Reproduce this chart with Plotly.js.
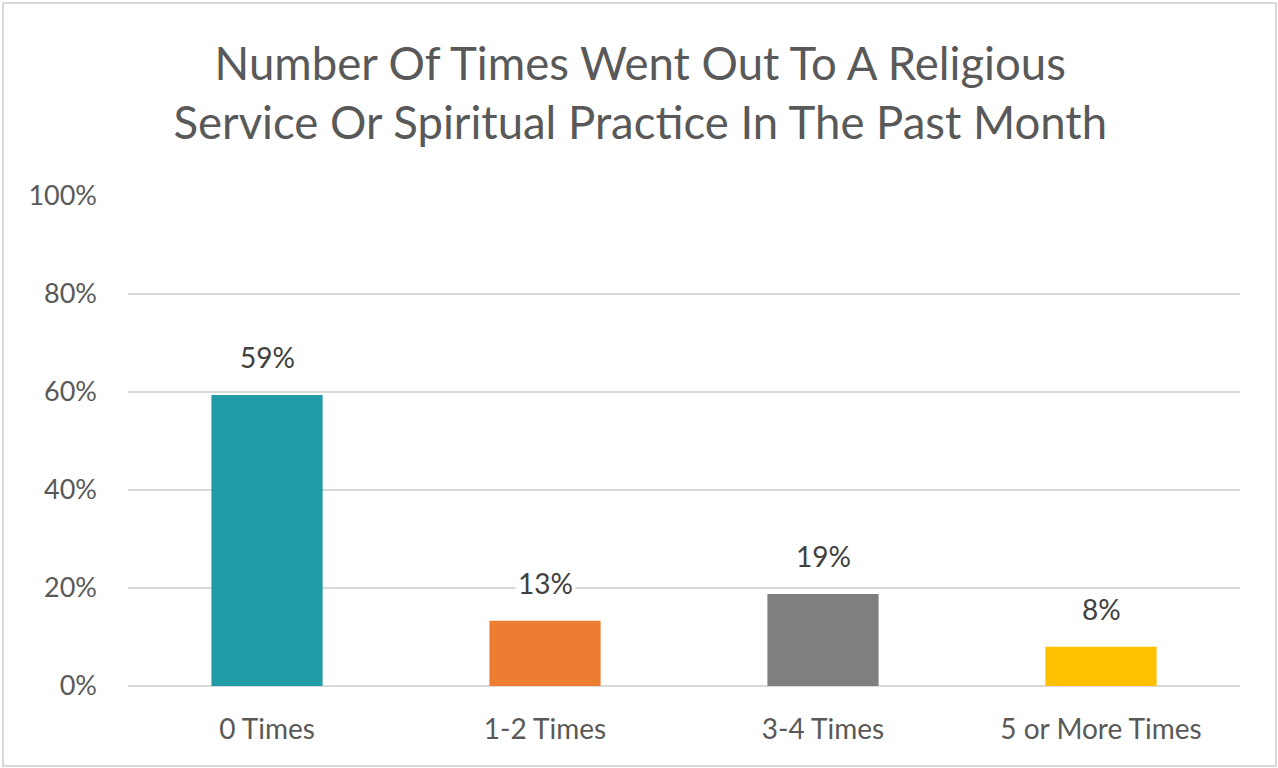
<!DOCTYPE html>
<html>
<head>
<meta charset="utf-8">
<script src="https://cdn.plot.ly/plotly-3.0.1.min.js"></script>
<style>
  html, body { margin: 0; padding: 0; background: #fff; }
  #wrap { position: relative; width: 1278px; height: 768px; }
  #chart { width: 1278px; height: 768px; }
  #frame { position: absolute; left: 2px; top: 2px; width: 1271px; height: 761px;
           border: 2px solid #d9d9d9; pointer-events: none; }
</style>
</head>
<body>
<div id="wrap">
  <div id="chart"></div>
  <div id="frame"></div>
</div>
<script>
const categories = ["0 Times", "1-2 Times", "3-4 Times", "5 or More Times"];
const values = [59.4, 13.3, 18.8, 8.0];
const labels = ["59%", "13%", "19%", "8%"];
const colors = ["#219ca6", "#ed7d31", "#7f7f7f", "#ffc000"];
const tickVals = [0, 20, 40, 60, 80, 100];
const tickText = ["0%", "20%", "40%", "60%", "80%", "100%"];

const FONT = "Lato, 'Open Sans', sans-serif";

const trace = {
  type: "bar",
  x: categories,
  y: values,
  marker: { color: colors },
  hoverinfo: "none"
};

const annotations = categories.map((c, i) => ({
  x: c, y: values[i], xref: "x", yref: "y",
  text: labels[i], showarrow: false,
  yanchor: "bottom", yshift: 18,
  font: { family: FONT, size: 28, color: "#404040" },
  bgcolor: "#ffffff", borderpad: 2
}));

const layout = {
  width: 1278, height: 768,
  margin: { l: 128, r: 38, t: 196, b: 82 },
  paper_bgcolor: "#ffffff", plot_bgcolor: "#ffffff",
  title: {
    text: "Number Of Times Went Out To A Religious<br>Service Or Spiritual Practice In The Past Month",
    font: { family: FONT, size: 45.5, color: "#595959" },
    x: 0.501, xanchor: "center", y: 0.896, yanchor: "middle"
  },
  bargap: 0.6,
  showlegend: false,
  xaxis: {
    type: "category",
    tickfont: { family: FONT, size: 28, color: "#595959" },
    showgrid: false, zeroline: false, showline: false,
    ticks: "", ticklen: 0,
    ticklabelstandoff: 24
  },
  yaxis: {
    range: [0, 100],
    tickvals: tickVals, ticktext: tickText,
    tickfont: { family: FONT, size: 27, color: "#595959" },
    showgrid: true, gridcolor: "#d9d9d9", gridwidth: 2,
    zeroline: true, zerolinecolor: "#d9d9d9", zerolinewidth: 2,
    showline: false, ticks: "", ticklen: 0,
    ticklabelstandoff: 30
  },
  annotations: annotations
};

Plotly.newPlot("chart", [trace], layout, { displayModeBar: false, staticPlot: true });
</script>
</body>
</html>
